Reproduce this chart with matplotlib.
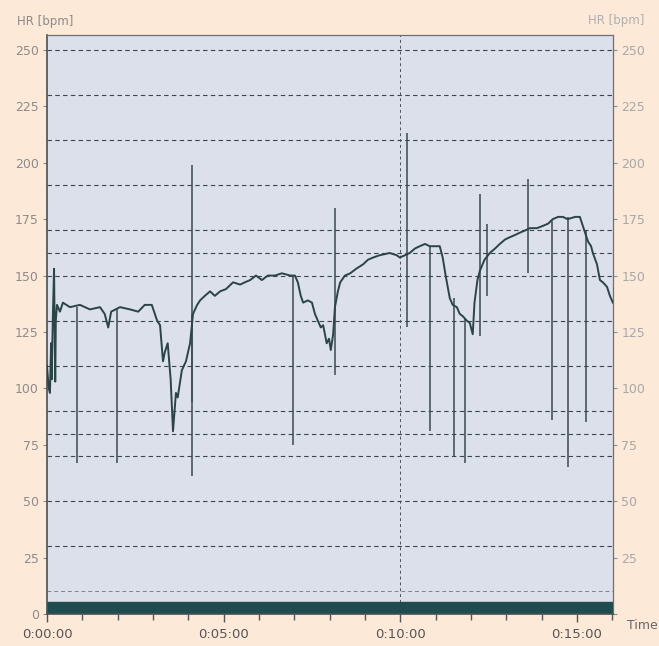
import numpy as np
import matplotlib
matplotlib.use("Agg")
import matplotlib.pyplot as plt
from matplotlib.ticker import FuncFormatter, MultipleLocator

# heart rate trace, time in seconds / bpm
t_sec = [0, 3, 5, 7, 8, 10, 12, 14, 15, 17, 22, 27, 39, 56, 73, 90, 98, 104, 109,
         124, 141, 155, 166, 178, 187, 192, 197, 200, 205, 210, 214, 219, 222, 229,
         236, 243, 248, 255, 260, 268, 277, 285, 294, 304, 316, 328, 336, 345, 355,
         365, 375, 387, 399, 413, 421, 426, 431, 435, 443, 450, 455, 460, 465, 469,
         472, 475, 479, 482, 486, 489, 494, 498, 506, 515, 525, 537, 545, 554, 565,
         582, 594, 599, 608, 616, 625, 633, 642, 650, 662, 667, 672, 677, 684, 689,
         696, 701, 706, 713, 718, 723, 726, 731, 735, 743, 752, 761, 769, 778, 786,
         795, 803, 812, 820, 832, 842, 851, 859, 868, 876, 884, 897, 905, 910, 915,
         919, 924, 927, 934, 939, 944, 951, 956, 961]
hr = [110, 100, 98, 120, 104, 132, 153, 103, 130, 137, 134, 138, 136, 137, 135, 136,
      133, 127, 134, 136, 135, 134, 137, 137, 130, 128, 112, 116, 120, 104, 81, 98,
      96, 108, 112, 120, 133, 137, 139, 141, 143, 141, 143, 144, 147, 146, 147, 148,
      150, 148, 150, 150, 151, 150, 150, 147, 141, 138, 139, 138, 133, 130, 127, 128,
      124, 120, 122, 117, 124, 136, 143, 147, 150, 151, 153, 155, 157, 158, 159, 160,
      159, 158, 159, 160, 162, 163, 164, 163, 163, 163, 158, 150, 140, 137, 136, 133,
      132, 130, 129, 124, 138, 148, 152, 157, 160, 162, 164, 166, 167, 168, 169, 170,
      171, 171, 172, 173, 175, 176, 176, 175, 176, 176, 172, 168, 165, 163, 160, 155,
      148, 147, 145, 141, 138]

# artefact spikes: time, upper and lower bpm
spike_t = [51, 119, 246, 246, 418, 489, 611, 650, 691, 710, 735, 747, 817, 857, 885, 915]
spike_hi = [136, 135, 199, 133, 150, 180, 213, 163, 140, 131, 186, 173, 193, 174, 176, 170]
spike_lo = [67, 67, 61, 94, 75, 106, 127, 81, 70, 67, 123, 141, 151, 86, 65, 85]

zone_lines = [250, 230, 210, 190, 170, 160, 150, 130, 110, 90, 80, 70, 50, 30]
y_ticks = [0, 25, 50, 75, 100, 125, 150, 175, 200, 225, 250]

fig = plt.figure(figsize=(6.59, 6.46), dpi=100, facecolor="#fde9d8")
ax = fig.add_axes([0.0713, 0.0495, 0.8587, 0.8963])
ax.set_facecolor("#dce0ea")

for z in zone_lines:
    ax.axhline(z, color="#3c4650", lw=0.8, ls=(0, (4, 3)), zorder=1)
ax.axhline(10, color="#7a8490", lw=0.7, ls=(0, (4, 3)), zorder=1)
ax.axvline(600, color="#4a525c", lw=0.7, ls=(0, (3, 3)), zorder=1)

ax.axhspan(0, 5.3, color="#1f4c4e", zorder=2)

ax.vlines(spike_t, spike_lo, spike_hi, color="#3a4852", lw=1.1, zorder=3)
ax.plot(t_sec, hr, color="#2a4448", lw=1.4, zorder=4)

ax.set_xlim(0, 961)
ax.set_ylim(0, 256.6)

ax.xaxis.set_major_locator(MultipleLocator(300))
ax.xaxis.set_minor_locator(MultipleLocator(60))
ax.xaxis.set_major_formatter(FuncFormatter(
    lambda v, p: "%d:%02d:%02d" % (v // 3600, (v % 3600) // 60, v % 60)))
ax.set_yticks(y_ticks)
ax.tick_params(axis="x", which="major", direction="out", length=6, width=1,
               colors="#555555", labelsize=9.5, pad=4)
ax.tick_params(axis="x", which="minor", direction="out", length=4, width=1,
               color="#555555")
ax.tick_params(axis="y", direction="out", length=3, width=0.8, colors="#8c8c8c",
               labelsize=9, right=True, labelright=True, pad=3)
# no zero label on the right axis
ax.yaxis.get_major_ticks()[0].label2.set_visible(False)
for tk in ax.yaxis.get_major_ticks():
    tk.label2.set_color("#a8a8a8")

for s in ["left", "bottom"]:
    ax.spines[s].set_color("#4a4f55")
    ax.spines[s].set_linewidth(1.2)
for s in ["right", "top"]:
    ax.spines[s].set_color("#6b7078")
    ax.spines[s].set_linewidth(0.9)

fig.text(0.026, 0.966, "HR [bpm]", fontsize=8.5, color="#8a8a8a", va="center")
fig.text(0.978, 0.968, "HR [bpm]", fontsize=8.5, color="#b0b0b0", va="center", ha="right")
fig.text(0.951, 0.032, "Time", fontsize=9, color="#666666", va="center")

fig.savefig("out.png", dpi=100, facecolor=fig.get_facecolor())
